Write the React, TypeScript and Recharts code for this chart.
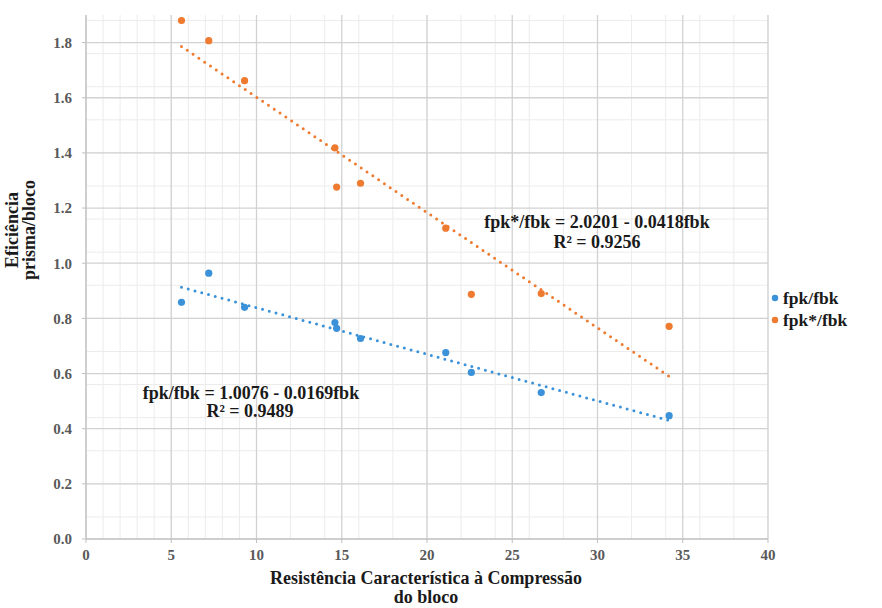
import React from 'react';
import { ScatterChart, Scatter, XAxis, YAxis, CartesianGrid } from 'recharts';

const fbk = [5.6, 7.2, 9.3, 14.6, 14.7, 16.1, 21.1, 22.6, 26.7, 34.2];
const fpkRatio = [0.858, 0.964, 0.84, 0.785, 0.764, 0.727, 0.676, 0.604, 0.531, 0.447];
const fbkStar = [5.6, 7.2, 9.3, 14.6, 14.7, 16.1, 21.1, 22.6, 26.7, 34.2];
const fpkStarRatio = [1.88, 1.807, 1.662, 1.418, 1.276, 1.29, 1.127, 0.887, 0.89, 0.771];

const trendX = [5.6, 34.2];
const blueTrendY = [0.913, 0.43];
const orangeTrendY = [1.786, 0.59];

const xTicks = [0, 5, 10, 15, 20, 25, 30, 35, 40];
const yTicks = [0, 0.2, 0.4, 0.6, 0.8, 1.0, 1.2, 1.4, 1.6, 1.8];
const xMinor = Array.from({ length: 41 }, (_, i) => i);
const yMinor = Array.from({ length: 48 }, (_, i) => Math.round(i * 4) / 100);

const seriesNames = ['fpk/fbk', 'fpk*/fbk'];

const BLUE = '#3b92d8';
const ORANGE = '#ee7b30';

const blueData = fbk.map((x, i) => ({ x, y: fpkRatio[i] }));
const orangeData = fbkStar.map((x, i) => ({ x, y: fpkStarRatio[i] }));
const blueTrend = trendX.map((x, i) => ({ x, y: blueTrendY[i] }));
const orangeTrend = trendX.map((x, i) => ({ x, y: orangeTrendY[i] }));

const serif = '"Liberation Serif", "Times New Roman", serif';

const dot = (color: string) => (props: any) => (
  <circle cx={props.cx} cy={props.cy} r={3.6} fill={color} />
);
const noShape = () => <g />;

const tickStyle = {
  fill: '#595959',
  fontSize: 15,
  fontWeight: 700,
  fontFamily: serif,
  style: { fontFamily: serif, fontWeight: 700 },
};

export default function App() {
  return (
    <div
      style={{
        position: 'absolute',
        left: 0,
        top: 0,
        width: 882,
        height: 608,
        background: '#fff',
        fontFamily: serif,
      }}
    >
      <ScatterChart
        width={882}
        height={608}
        margin={{ top: 15, right: 114, bottom: 39, left: 46 }}
        style={{ fontFamily: serif }}
      >
        <CartesianGrid stroke="#ececec" strokeWidth={1} horizontalValues={yMinor} verticalValues={xMinor} />
        <CartesianGrid stroke="#d2d2d2" strokeWidth={1.3} horizontalValues={yTicks} verticalValues={xTicks} />
        <XAxis
          type="number"
          dataKey="x"
          domain={[0, 40]}
          ticks={xTicks}
          height={30}
          tickSize={4}
          tickMargin={6}
          stroke="#bfbfbf"
          tick={tickStyle}
          allowDataOverflow
        />
        <YAxis
          type="number"
          dataKey="y"
          domain={[0, 1.9]}
          ticks={yTicks}
          width={40}
          tickSize={4}
          tickMargin={10}
          stroke="#bfbfbf"
          tick={tickStyle}
          tickFormatter={(v: number) => v.toFixed(1)}
          allowDataOverflow
        />
        <Scatter
          name="trendBlue"
          data={blueTrend}
          line={{ stroke: BLUE, strokeWidth: 3, strokeDasharray: '0 7', strokeLinecap: 'round' }}
          shape={noShape}
          legendType="none"
          isAnimationActive={false}
        />
        <Scatter
          name="trendOrange"
          data={orangeTrend}
          line={{ stroke: ORANGE, strokeWidth: 3, strokeDasharray: '0 7', strokeLinecap: 'round' }}
          shape={noShape}
          legendType="none"
          isAnimationActive={false}
        />
        <Scatter name={seriesNames[0]} data={blueData} fill={BLUE} shape={dot(BLUE)} isAnimationActive={false} />
        <Scatter name={seriesNames[1]} data={orangeData} fill={ORANGE} shape={dot(ORANGE)} isAnimationActive={false} />
      </ScatterChart>
      <svg width={882} height={608} style={{ position: 'absolute', left: 0, top: 0, pointerEvents: 'none' }}>
        <g fontFamily={serif} fontWeight={700} fill="#1a1a1a">
          <circle cx={775} cy={298} r={3.2} fill={BLUE} />
          <text x={783} y={304} fontSize={17.5}>{seriesNames[0]}</text>
          <circle cx={775} cy={320} r={3.2} fill={ORANGE} />
          <text x={783} y={326} fontSize={17.5}>{seriesNames[1]}</text>
        </g>
        <g fontFamily={serif} fontWeight={700} fill="#1a1a1a" textAnchor="middle">
          <text x={251} y={399} fontSize={18}>fpk/fbk = 1.0076 - 0.0169fbk</text>
          <text x={250} y={417} fontSize={18}>R² = 0.9489</text>
          <text x={597} y={228} fontSize={18}>fpk*/fbk = 2.0201 - 0.0418fbk</text>
          <text x={597} y={248} fontSize={18}>R² = 0.9256</text>
          <text x={426} y={584} fontSize={18}>Resistência Característica à Compressão</text>
          <text x={426} y={603} fontSize={18}>do bloco</text>
          <text transform="translate(18,230) rotate(-90)" fontSize={18}>Eficiência</text>
          <text transform="translate(35,230) rotate(-90)" fontSize={18}>prisma/bloco</text>
        </g>
      </svg>
    </div>
  );
}
